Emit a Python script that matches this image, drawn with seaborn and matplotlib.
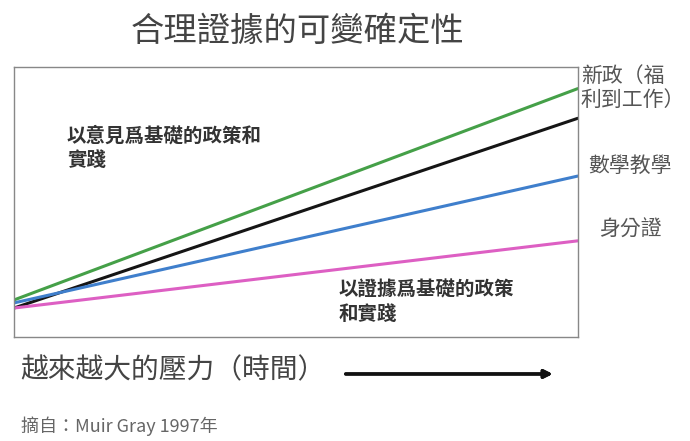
import pandas as pd
import matplotlib.pyplot as plt
import seaborn as sns

# data (x: start/end of time, y: certainty 0-100)
times = [0, 1]
green_vals = [13.7, 92.0]
black_vals = [10.7, 81.0]
blue_vals = [12.6, 59.6]
pink_vals = [10.7, 35.6]

df = pd.DataFrame({
    "time": times * 4,
    "value": green_vals + black_vals + blue_vals + pink_vals,
    "series": ["green"] * 2 + ["black"] * 2 + ["blue"] * 2 + ["pink"] * 2,
})
palette = {"green": "#45a048", "black": "#151515", "blue": "#3f7fcc", "pink": "#dd5fc3"}

sns.set_style("white")
plt.rcParams['font.family'] = ['Noto Sans CJK TC', 'DejaVu Sans']

fig = plt.figure(figsize=(6.9, 4.41), dpi=100)
ax = fig.add_axes([0.0203, 0.236, 0.817, 0.612])
sns.lineplot(data=df, x="time", y="value", hue="series", palette=palette,
             linewidth=2.2, legend=False, ax=ax)
ax.set_xlim(0, 1)
ax.set_ylim(0, 100)
ax.set_xticks([])
ax.set_yticks([])
ax.set_xlabel("")
ax.set_ylabel("")
for s in ax.spines.values():
    s.set_color("#888888")
    s.set_linewidth(1.0)

# title
fig.text(0.431, 0.928, "合理證據的可變確定性", fontsize=24, color="#444444",
         ha="center", va="center")

# text inside the box
fig.text(0.097, 0.715, "以意見爲基礎的政策和\n實踐", fontsize=14, color="#333333",
         fontweight="bold", ha="left", va="top", linespacing=1.35)
fig.text(0.49, 0.365, "以證據爲基礎的政策\n和實踐", fontsize=14, color="#333333",
         fontweight="bold", ha="left", va="top", linespacing=1.35)

# right labels
fig.text(0.842, 0.80, "新政（福\n利到工作）", fontsize=15, color="#555555",
         ha="left", va="center", linespacing=1.1)
fig.text(0.852, 0.624, "數學教學", fontsize=15, color="#555555", ha="left", va="center")
fig.text(0.868, 0.48, "身分證", fontsize=15, color="#555555", ha="left", va="center")

# bottom text and arrow
fig.text(0.03, 0.161, "越來越大的壓力（時間）", fontsize=20, color="#444444",
         ha="left", va="center")
fig.add_artist(plt.annotate("", xy=(0.805, 0.152), xytext=(0.497, 0.152),
                            xycoords="figure fraction",
                            arrowprops=dict(arrowstyle="-|>", color="#111111", lw=2.4,
                                            mutation_scale=12)))
fig.text(0.03, 0.034, "摘自：Muir Gray 1997年", fontsize=13, color="#666666",
         ha="left", va="center")

fig.savefig("out.png", dpi=100)
